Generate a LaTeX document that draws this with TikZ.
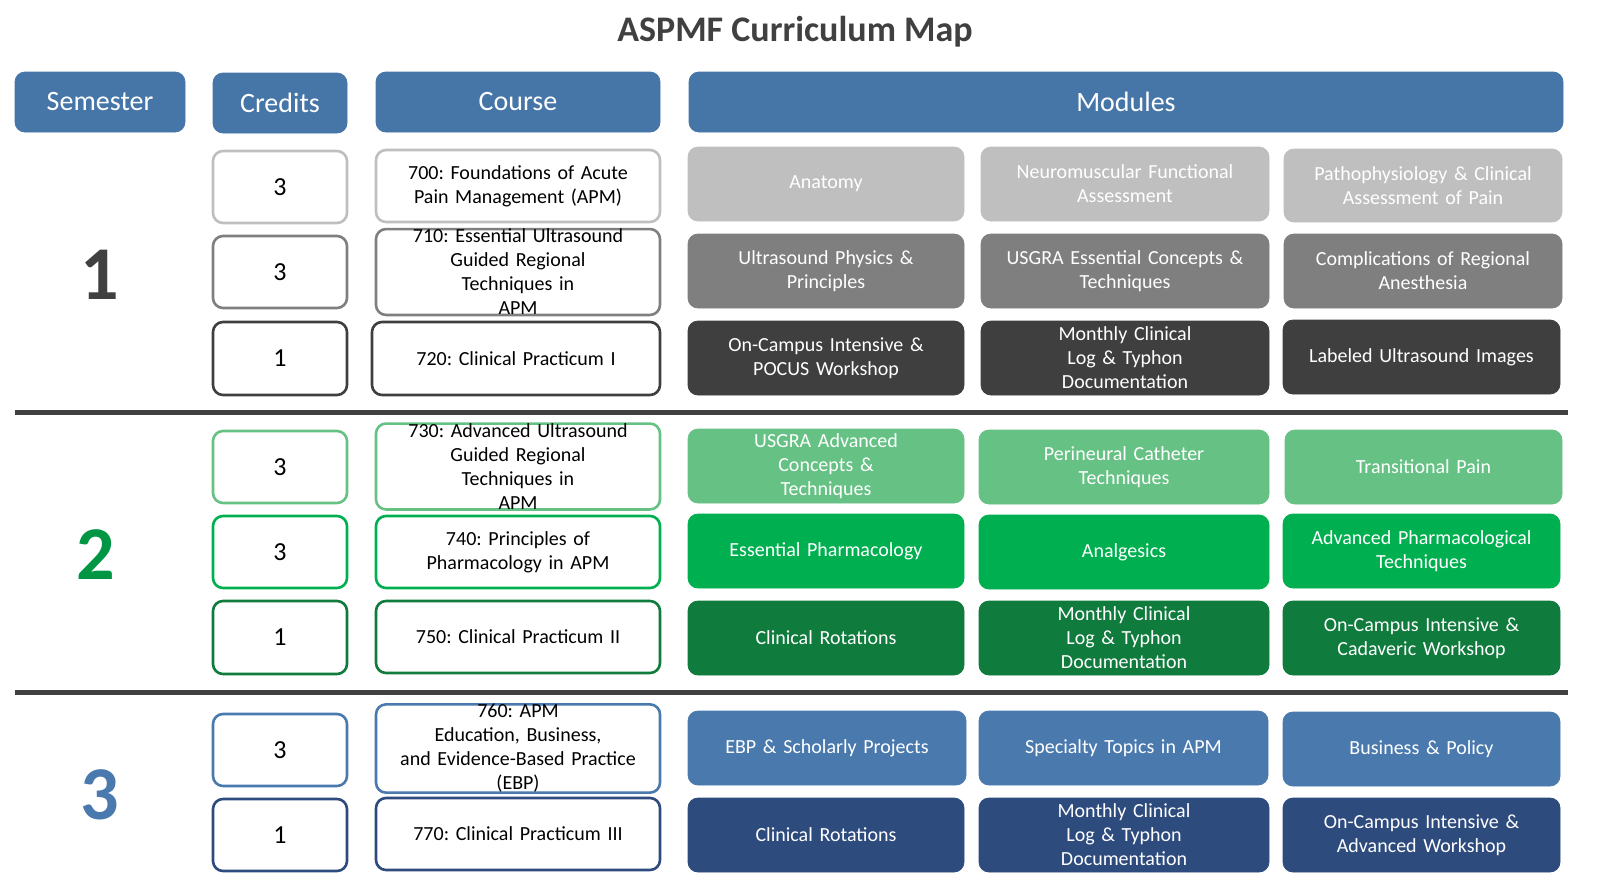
\documentclass[tikz,border=0pt]{standalone}
\usepackage{fontspec}
\setmainfont{Carlito}
\hyphenpenalty=10000
\exhyphenpenalty=10000
\frenchspacing
\definecolor{hdr}{HTML}{4676A8}
\definecolor{gA}{HTML}{BFBFBF}
\definecolor{gB}{HTML}{7F7F7F}
\definecolor{gC}{HTML}{3F3F3F}
\definecolor{nA}{HTML}{66C284}
\definecolor{nB}{HTML}{00B050}
\definecolor{nC}{HTML}{0F7B3C}
\definecolor{bA}{HTML}{4A79AE}
\definecolor{bB}{HTML}{2E4B7E}
\definecolor{sep}{HTML}{404040}
\newcommand\cellbox[7]{\node[#6, minimum width={(#4-#2)*0.5pt}, minimum height={(#5-#3)*0.5pt}, text width={(#4-#2-40)*0.5pt}] (#1) at ({(#2+#4)/2},{(#3+#5)/2}) {#7};}
\tikzset{
 base/.style={rounded corners=5pt, inner sep=0pt, align=center},
 head/.style={base, fill=hdr, draw=hdr, text=white, font=\fontsize{14}{16}\selectfont},
 cred/.style={base, fill=white, draw=#1, line width=1.3pt, font=\fontsize{13}{15}\selectfont},
 course/.style={base, fill=white, draw=#1, line width=1.3pt, font=\fontsize{10}{12}\selectfont},
 mod/.style={base, fill=#1, draw=#1, text=white, font=\fontsize{10}{12}\selectfont},
}
\begin{document}
\begin{tikzpicture}[x=0.5pt,y=-0.5pt]
\useasboundingbox (0,0) rectangle (1602,895);
\node[font=\fontsize{18}{20}\selectfont\bfseries, text=sep] (title) at (795,32) {ASPMF Curriculum Map};
\cellbox{hs}{15}{72}{185}{132}{head}{Semester}
\cellbox{hc}{213}{73}{347}{133}{head}{Credits}
\cellbox{hco}{376}{72}{660}{132}{head}{Course}
\cellbox{hm}{689}{72}{1563}{132}{head}{Modules}
% dividers
\coordinate (d1a) at (15,412); \coordinate (d1b) at (1568,412);
\coordinate (d2a) at (15,692); \coordinate (d2b) at (1568,692);
\draw[sep, line width=2.5pt] (d1a) -- (d1b);
\draw[sep, line width=2.5pt] (d2a) -- (d2b);
% semester numbers
\node[font=\fontsize{38}{40}\selectfont\bfseries, text=sep] (s1) at (100,275) {1};
\node[font=\fontsize{38}{40}\selectfont\bfseries, text=nB!85!black] (s2) at (96,555) {2};
\node[font=\fontsize{38}{40}\selectfont\bfseries, text=bA] (s3) at (100,795) {3};
% semester 1
\cellbox{c1}{213}{151}{347}{223}{cred=gA}{3}
\cellbox{c2}{213}{236}{347}{308}{cred=gB}{3}
\cellbox{c3}{213}{322}{347}{395}{cred=gC}{1}
\cellbox{k1}{376}{150}{660}{222}{course=gA}{700: Foundations of Acute\\Pain Management (APM)}
\cellbox{k2}{376}{236}{660}{308}{course=gB}{710: Essential Ultrasound\\Guided Regional Techniques in\\APM}
\cellbox{k3}{372}{322}{660}{395}{course=gC}{720: Clinical Practicum I}
\cellbox{m11}{688}{147}{964}{221}{mod=gA}{Anatomy}
\cellbox{m12}{981}{147}{1269}{221}{mod=gA}{Neuromuscular Functional\\Assessment}
\cellbox{m13}{1284}{149}{1562}{222}{mod=gA}{Pathophysiology \& Clinical\\Assessment of Pain}
\cellbox{m21}{688}{234}{964}{308}{mod=gB}{Ultrasound Physics \&\\Principles}
\cellbox{m22}{981}{234}{1269}{308}{mod=gB}{USGRA Essential Concepts \&\\Techniques}
\cellbox{m23}{1284}{234}{1562}{308}{mod=gB}{Complications of Regional\\Anesthesia}
\cellbox{m31}{688}{321}{964}{395}{mod=gC}{On-Campus Intensive \&\\POCUS Workshop}
\cellbox{m32}{981}{321}{1269}{395}{mod=gC}{Monthly Clinical Log \& Typhon\\Documentation}
\cellbox{m33}{1283}{320}{1560}{394}{mod=gC}{Labeled Ultrasound Images}
% semester 2
\cellbox{c4}{213}{431}{347}{503}{cred=nA}{3}
\cellbox{c5}{213}{516}{347}{588}{cred=nB}{3}
\cellbox{c6}{213}{601}{347}{674}{cred=nC}{1}
\cellbox{k4}{376}{431}{660}{502}{course=nA}{730: Advanced Ultrasound\\Guided Regional Techniques in\\APM}
\cellbox{k5}{376}{516}{660}{588}{course=nB}{740: Principles of\\Pharmacology in APM}
\cellbox{k6}{376}{601}{660}{673}{course=nC}{750: Clinical Practicum II}
\cellbox{m41}{688}{429}{964}{503}{mod=nA}{USGRA Advanced Concepts \&\\Techniques}
\cellbox{m42}{979}{430}{1269}{504}{mod=nA}{Perineural Catheter Techniques}
\cellbox{m43}{1285}{430}{1562}{504}{mod=nA}{Transitional Pain}
\cellbox{m51}{688}{514}{964}{588}{mod=nB}{Essential Pharmacology}
\cellbox{m52}{979}{515}{1269}{589}{mod=nB}{Analgesics}
\cellbox{m53}{1283}{514}{1560}{588}{mod=nB}{Advanced Pharmacological\\Techniques}
\cellbox{m61}{688}{601}{964}{675}{mod=nC}{Clinical Rotations}
\cellbox{m62}{979}{601}{1269}{675}{mod=nC}{Monthly Clinical Log \& Typhon\\Documentation}
\cellbox{m63}{1283}{601}{1560}{675}{mod=nC}{On-Campus Intensive \&\\Cadaveric Workshop}
% semester 3
\cellbox{c7}{213}{714}{347}{786}{cred=bA}{3}
\cellbox{c8}{213}{799}{347}{871}{cred=bB}{1}
\cellbox{k7}{376}{713}{660}{784}{course=bA}{760: APM Education, Business,\\and Evidence-Based Practice\\(EBP)}
\cellbox{k8}{376}{798}{660}{870}{course=bB}{770: Clinical Practicum III}
\cellbox{m71}{688}{711}{966}{785}{mod=bA}{EBP \& Scholarly Projects}
\cellbox{m72}{979}{711}{1268}{785}{mod=bA}{Specialty Topics in APM}
\cellbox{m73}{1283}{712}{1560}{786}{mod=bA}{Business \& Policy}
\cellbox{m81}{688}{798}{964}{872}{mod=bB}{Clinical Rotations}
\cellbox{m82}{979}{798}{1269}{872}{mod=bB}{Monthly Clinical Log \& Typhon\\Documentation}
\cellbox{m83}{1283}{798}{1560}{872}{mod=bB}{On-Campus Intensive \&\\Advanced Workshop}
\end{tikzpicture}
\end{document}
